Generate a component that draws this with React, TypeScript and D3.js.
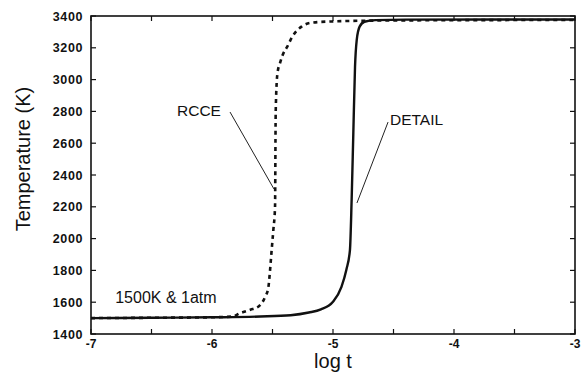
import React from "react";
import * as d3 from "d3";

// ---- data ----
const detailLogT = [-7, -6.5, -6.0, -5.6, -5.35, -5.2, -5.1, -5.0, -4.93, -4.89, -4.86, -4.846, -4.832, -4.818, -4.804, -4.78, -4.74, -4.65, -4.4, -3];
const detailT = [1500, 1502, 1505, 1510, 1518, 1535, 1555, 1603, 1697, 1803, 1928, 2243, 2664, 3081, 3249, 3333, 3364, 3374, 3377, 3378];

const rcceLogT = [-7, -6.5, -6.0, -5.83, -5.77, -5.69, -5.61, -5.56, -5.535, -5.52, -5.507, -5.493, -5.479, -5.474, -5.471, -5.465, -5.457, -5.438, -5.416, -5.378, -5.333, -5.26, -5.18, -5.0, -4.5, -3];
const rcceT = [1500, 1502, 1505, 1510, 1530, 1551, 1576, 1635, 1689, 1803, 1928, 2054, 2201, 2767, 2872, 2987, 3050, 3104, 3155, 3207, 3274, 3333, 3358, 3366, 3372, 3375];

const xTicks = [-7, -6, -5, -4, -3];
const xMinorTicks = [-7, -6.5, -6, -5.5, -5, -4.5, -4, -3.5, -3];
const yTicks = [1400, 1600, 1800, 2000, 2200, 2400, 2600, 2800, 3000, 3200, 3400];

// annotations in data units
const rcceLabel = { t: -6.289, T: 2770, text: "RCCE" };
const rcceLeader = [[-5.851, 2796], [-5.488, 2312]];
const detailLabel = { t: -4.529, T: 2714, text: "DETAIL" };
const detailLeader = [[-4.545, 2733], [-4.802, 2224]];
const condLabel = { t: -6.80, T: 1595, text: "1500K & 1atm" };

const W = 581, H = 373;
const M = { left: 91, right: 6, top: 16, bottom: 39 };

export default function App() {
  const x = d3.scaleLinear().domain([-7, -3]).range([M.left, W - M.right]);
  const y = d3.scaleLinear().domain([1400, 3400]).range([H - M.bottom, M.top]);

  const mk = (ts: number[], vs: number[]) =>
    d3
      .line<[number, number]>()
      .x((d) => x(d[0]))
      .y((d) => y(d[1]))
      .curve(d3.curveMonotoneX)(ts.map((t, i) => [t, vs[i]] as [number, number])) || "";

  const detailPath = mk(detailLogT, detailT);
  const rccePath = mk(rcceLogT, rcceT);

  const x0 = x(-7), x1 = x(-3), y0 = y(1400), y1 = y(3400);
  const font = "Arial, 'Liberation Sans', sans-serif";
  const tickLen = 5;

  return (
    <svg
      width={W}
      height={H}
      style={{ position: "absolute", left: 0, top: 0, background: "#fff" }}
      fontFamily={font}
    >
      <rect x={0} y={0} width={W} height={H} fill="#fff" />
      {/* frame */}
      <rect x={x0} y={y1} width={x1 - x0} height={y0 - y1} fill="none" stroke="#111" strokeWidth={1.6} />
      {/* x ticks */}
      {xMinorTicks.map((t) => (
        <g key={"xt" + t}>
          <line x1={x(t)} x2={x(t)} y1={y0} y2={y0 - tickLen} stroke="#111" strokeWidth={1.2} />
          <line x1={x(t)} x2={x(t)} y1={y1} y2={y1 + tickLen} stroke="#111" strokeWidth={1.2} />
        </g>
      ))}
      {xTicks.map((t) => (
        <text key={"xl" + t} x={x(t)} y={y0 + 14} fontSize={12} fontWeight="bold" textAnchor="middle" fill="#111">
          {"-" + Math.abs(t)}
        </text>
      ))}
      {/* y ticks */}
      {yTicks.map((v) => (
        <g key={"yt" + v}>
          <line x1={x0} x2={x0 + tickLen} y1={y(v)} y2={y(v)} stroke="#111" strokeWidth={1.2} />
          <line x1={x1} x2={x1 - tickLen} y1={y(v)} y2={y(v)} stroke="#111" strokeWidth={1.2} />
          <text x={x0 - 8} y={y(v) + 4.5} fontSize={12.5} fontWeight="bold" letterSpacing={0.6} textAnchor="end" fill="#111">
            {v}
          </text>
        </g>
      ))}
      {/* axis titles */}
      <text x={x((-7 + -3) / 2)} y={H - 5} fontSize={20} textAnchor="middle" fill="#111">
        log t
      </text>
      <text
        transform={`translate(${30},${y(2500)}) rotate(-90)`}
        fontSize={20}
        textAnchor="middle"
        fill="#111"
      >
        Temperature (K)
      </text>
      {/* curves */}
      <path d={detailPath} fill="none" stroke="#111" strokeWidth={2.4} strokeLinejoin="round" />
      <path d={rccePath} fill="none" stroke="#111" strokeWidth={2.6} strokeDasharray="4,4" />
      {/* annotations */}
      <line
        x1={x(rcceLeader[0][0])}
        y1={y(rcceLeader[0][1])}
        x2={x(rcceLeader[1][0])}
        y2={y(rcceLeader[1][1])}
        stroke="#222"
        strokeWidth={1}
      />
      <line
        x1={x(detailLeader[0][0])}
        y1={y(detailLeader[0][1])}
        x2={x(detailLeader[1][0])}
        y2={y(detailLeader[1][1])}
        stroke="#222"
        strokeWidth={1}
      />
      <text x={x(rcceLabel.t)} y={y(rcceLabel.T)} fontSize={15.5} fill="#111">
        {rcceLabel.text}
      </text>
      <text x={x(detailLabel.t)} y={y(detailLabel.T)} fontSize={15.5} fill="#111">
        {detailLabel.text}
      </text>
      <text x={x(condLabel.t)} y={y(condLabel.T)} fontSize={16} fill="#111">
        {condLabel.text}
      </text>
    </svg>
  );
}
